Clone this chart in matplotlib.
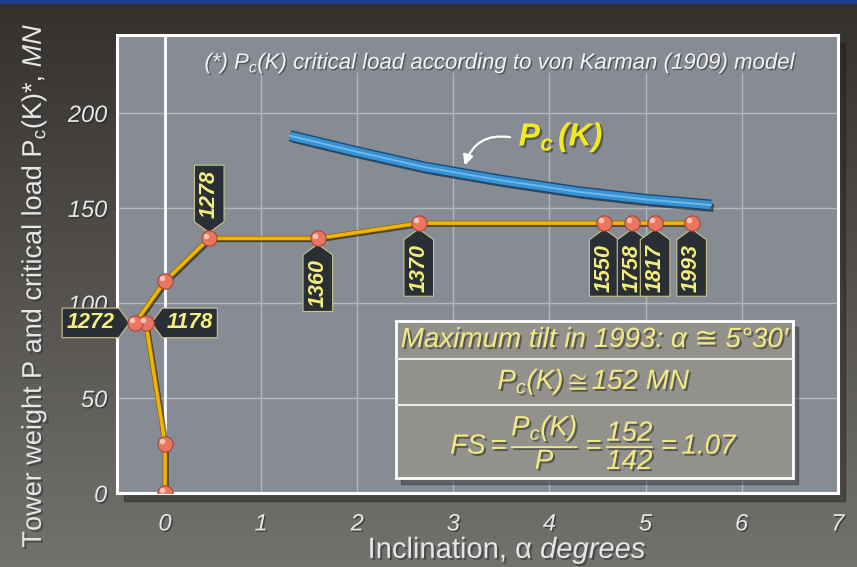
import numpy as np
import matplotlib
matplotlib.use("Agg")
import matplotlib.pyplot as plt
import matplotlib.patheffects as pe
from matplotlib.path import Path
from matplotlib.patches import Rectangle

plt.rcParams['font.family'] = ['Liberation Sans', 'DejaVu Sans']
plt.rcParams['mathtext.fontset'] = 'custom'
plt.rcParams['mathtext.rm'] = 'Liberation Sans:italic'
plt.rcParams['mathtext.sf'] = 'Liberation Sans'
plt.rcParams['mathtext.it'] = 'Liberation Sans:italic'
plt.rcParams['mathtext.bf'] = 'Liberation Sans:italic:bold'
plt.rcParams['mathtext.default'] = 'it'
plt.rcParams['mathtext.fallback'] = 'stixsans'

# tower weight P vs inclination
incl = [0, 0, -0.2, -0.31, 0, 0.46, 1.59, 2.64, 4.57, 4.86, 5.10, 5.48]
weight = [0, 26, 89.5, 89.5, 111.5, 134, 134, 142, 142, 142, 142, 142]
years = ['', '', '1178', '1272', '', '1278', '1360', '1370', '1550', '1758', '1817', '1993']
tag_dir = ['', '', 'left', 'right', '', 'down', 'up', 'up', 'up', 'up', 'up', 'up']

# critical load Pc(K), von Karman model
pc_incl = [1.3, 2.0, 2.7, 3.5, 4.3, 5.0, 5.68]
pc_load = [188, 179.5, 171.5, 164.5, 158.5, 154.5, 151.5]

x_ticks = [0, 1, 2, 3, 4, 5, 6, 7]
y_ticks = [0, 50, 100, 150, 200]


def tag_style(tip_side):
    # pentagon shaped label box, tip on the left or right of the (unrotated) text
    def style(x0, y0, w, h, mutation_size):
        pad = 0.2 * mutation_size
        x0, y0, w, h = x0 - pad, y0 - pad, w + 2 * pad, h + 2 * pad
        tip = 0.5 * mutation_size
        if tip_side == 'right':
            verts = [(x0, y0), (x0 + w, y0), (x0 + w + tip, y0 + h / 2),
                     (x0 + w, y0 + h), (x0, y0 + h), (x0, y0)]
        else:
            verts = [(x0, y0), (x0 + w, y0), (x0 + w, y0 + h),
                     (x0, y0 + h), (x0 - tip, y0 + h / 2), (x0, y0)]
        return Path(verts, closed=True)
    return style


fig = plt.figure(figsize=(8.57, 5.67), dpi=100)

# background gradient
bg = fig.add_axes([0, 0, 1, 1], zorder=-10)
top = np.array([0x33, 0x30, 0x2d]) / 255
bot = np.array([0x74, 0x72, 0x6f]) / 255
t = np.linspace(0, 1, 300)[:, None]
grad = top * (1 - t) + bot * t
bg.imshow(grad[:, None, :], aspect='auto', extent=[0, 1, 0, 1], transform=bg.transAxes)
bg.add_patch(Rectangle((0, 0.994), 1, 0.006, color='#1d3c8c', transform=bg.transAxes))
bg.set_axis_off()

ax = fig.add_axes([0.1365, 0.1305, 0.841, 0.8078])
ax.set_facecolor('#878b93')
ax.set_xlim(-0.5, 7)
ax.set_ylim(0, 241)

# shadow of the plot panel
fig.patches.append(Rectangle((0.1365 + 0.008, 0.1305 - 0.014), 0.841, 0.8078,
                             transform=fig.transFigure, color='#1f1d1b', alpha=0.45, zorder=-5))

for s in ax.spines.values():
    s.set_color('white')
    s.set_linewidth(2.2)

shadow = [pe.withSimplePatchShadow(offset=(1.5, -1.5), shadow_rgbFace='#333', alpha=0.6)]

ax.set_xticks(x_ticks)
ax.set_yticks(y_ticks)
ax.tick_params(length=0, labelsize=17, labelcolor='#e6e6e6')
ax.tick_params(axis='x', pad=14)
ax.tick_params(axis='y', pad=7)
for lab in ax.get_xticklabels() + ax.get_yticklabels():
    lab.set_fontstyle('italic')
    lab.set_path_effects([pe.withSimplePatchShadow(offset=(1, -1), shadow_rgbFace='#222', alpha=0.6)])

# grid
for yv in y_ticks[1:]:
    ax.axhline(yv, color='#b3b6bc', lw=1, zorder=1)
for xv in x_ticks[1:7]:
    ax.plot([xv, xv], [0, 221], color='#b3b6bc', lw=1, zorder=1)
ax.axvline(0, color='white', lw=2, zorder=2)

# Pc(K) curve
ax.plot(pc_incl, pc_load, color='#3692d2', lw=6, solid_capstyle='butt', zorder=4,
        path_effects=[pe.SimpleLineShadow(offset=(2, -2), alpha=0.5),
                      pe.Stroke(linewidth=8, foreground='#1c4a72'), pe.Normal()])
ax.plot(pc_incl, pc_load, color='#6fb8e8', lw=1.4, zorder=4)

# tower weight line
ax.plot(incl, weight, color='#f1b400', lw=2.5, zorder=5,
        path_effects=[pe.SimpleLineShadow(offset=(1.5, -1.5), alpha=0.5),
                      pe.Stroke(linewidth=3.5, foreground='#8a6500'), pe.Normal()])
ax.plot(incl, weight, 'o', ms=11, mfc='#ea765f', mec='#a8463a', mew=0.8, zorder=7)
ax.plot(incl, weight, 'o', ms=4, mfc='#f7c2b3', mec='none', zorder=8,
        transform=ax.transData + matplotlib.transforms.ScaledTranslation(-2 / 72, 2 / 72, fig.dpi_scale_trans))

# year tags
off = 15
for x, y, yr, d in zip(incl, weight, years, tag_dir):
    if not yr:
        continue
    if d == 'up':
        kw = dict(xytext=(0, -off), rotation=90, ha='center', va='top', side='right')
    elif d == 'down':
        kw = dict(xytext=(0, off), rotation=90, ha='center', va='bottom', side='left')
    elif d == 'left':
        kw = dict(xytext=(off, 0), rotation=0, ha='left', va='center', side='left')
    else:
        kw = dict(xytext=(-off, 0), rotation=0, ha='right', va='center', side='right')
    side = kw.pop('side')
    ax.annotate(yr, (x, y), textcoords='offset points', fontsize=15.5, fontweight='bold',
                fontstyle='italic', color='#f5ef7c', zorder=6,
                bbox=dict(boxstyle=tag_style(side), fc='#2a2f35', ec='#c9c48c', lw=0.8),
                **kw)

# Pc(K) label with curved arrow
ax.text(3.68, 187, r'$\mathbf{P_c\,(K)}$', fontsize=23, color='#f2ea1e', ha='left', va='center',
        zorder=9, path_effects=[pe.withSimplePatchShadow(offset=(1.5, -1.5), shadow_rgbFace='#333', alpha=0.6)])
ax.annotate('', xy=(3.11, 171), xytext=(3.62, 187), zorder=9,
            arrowprops=dict(arrowstyle='-|>,head_length=0.6,head_width=0.3', color='white', lw=1.6,
                            connectionstyle='arc3,rad=0.45'))

# note
ax.text(0.533, 0.938, r'(*) $P_c$(K) critical load according to von Karman (1909) model',
        transform=ax.transAxes, fontsize=16, fontstyle='italic', color='#f2f2f2',
        ha='center', va='center',
        path_effects=[pe.withSimplePatchShadow(offset=(1, -1), shadow_rgbFace='#333', alpha=0.6)])

# info box
ax.add_patch(Rectangle((2.40 + 0.06, 7.9 - 3), 4.13, 82.6, color='#2a2a2a', alpha=0.45, zorder=9))
ax.add_patch(Rectangle((2.40, 7.9), 4.13, 82.6, fc='#93918c', ec='white', lw=2, zorder=10))
ax.plot([2.40, 6.53], [70.5, 70.5], color='#e8e8e8', lw=1.5, zorder=11)
ax.plot([2.40, 6.53], [46.3, 46.3], color='#e8e8e8', lw=1.5, zorder=11)
ax.text(4.465, 80.5, 'Maximum tilt in 1993: α ≅ 5°30′', fontsize=20, fontstyle='italic',
        color='#f2ea80', ha='center', va='center', zorder=12, path_effects=shadow)
ax.text(4.465, 58.4, r'$P_c(K)\cong 152\ MN$', fontsize=20,
        color='#f2ea80', ha='center', va='center', zorder=12, path_effects=shadow)
ax.text(4.465, 27, r'$FS=\dfrac{P_c(K)}{P}=\dfrac{152}{142}=1.07$', fontsize=20,
        color='#f2ea80', ha='center', va='center', zorder=12, path_effects=shadow)

# axis labels
fig.text(507 / 857, 1 - 550 / 567, r'Inclination, α $degrees$', fontsize=21, color='#e6e6e6',
         ha='center', va='center', path_effects=shadow)
fig.text(34 / 857, 1 - 285 / 567, r'Tower weight P and critical load P$_\mathsf{c}$(K)*, $MN$',
         fontsize=19.5, color='#e6e6e6', rotation=90, ha='center', va='center', path_effects=shadow)

fig.savefig('out.png', dpi=100)
